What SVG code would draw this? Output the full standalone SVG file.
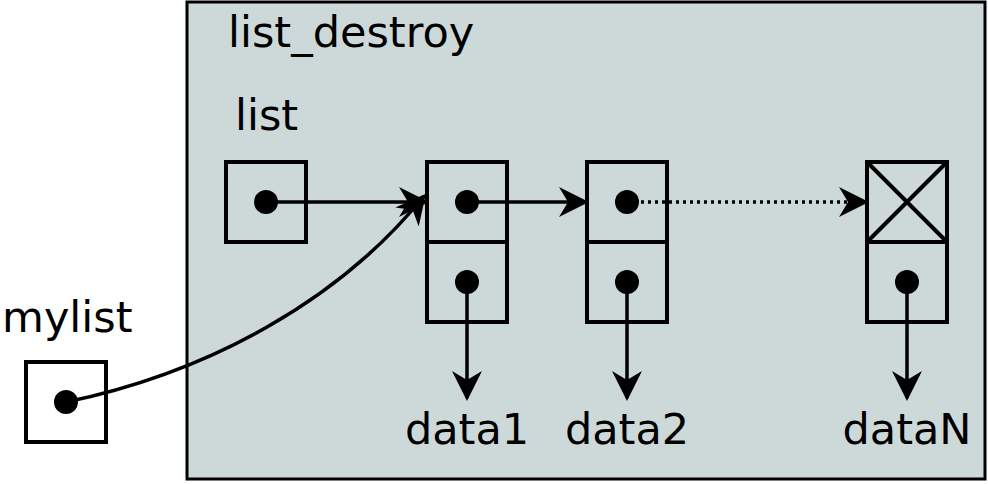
<svg xmlns="http://www.w3.org/2000/svg" width="988" height="484" viewBox="0 0 988 484">
<defs>
<style>
.b{fill:none;stroke:#000;stroke-width:4}
.t{font-family:"DejaVu Sans",sans-serif;font-size:43px;fill:#000}
.l{stroke:#000;stroke-width:3.5;fill:none}
</style>
<marker id="A" viewBox="0 0 10 10" refX="9" refY="5" markerWidth="30" markerHeight="30" markerUnits="userSpaceOnUse" orient="auto"><path d="M0,0 L10,5 L0,10 L3,5 Z" fill="#000"/></marker>
</defs>
<rect width="988" height="484" fill="#fff"/>
<g id="frame"><rect x="187" y="2" width="798" height="477" fill="#cdd9d9" stroke="#000" stroke-width="3"/>
<text class="t" x="228" y="47">list_destroy</text></g>
<g id="list"><text class="t" x="235" y="130">list</text><rect class="b" x="226" y="162" width="80" height="80"/><circle cx="266" cy="202" r="12"/></g>
<g id="node1"><rect class="b" x="427" y="162" width="80" height="80"/><rect class="b" x="427" y="242" width="80" height="80"/><circle cx="467" cy="202" r="12"/><circle cx="467" cy="282" r="12"/></g>
<g id="node2"><rect class="b" x="587" y="162" width="80" height="80"/><rect class="b" x="587" y="242" width="80" height="80"/><circle cx="627" cy="202" r="12"/><circle cx="627" cy="282" r="12"/></g>
<g id="nodeN"><rect class="b" x="867" y="162" width="80" height="80"/><path class="b" d="M867,162 L947,242 M947,162 L867,242"/><rect class="b" x="867" y="242" width="80" height="80"/><circle cx="907" cy="282" r="12"/></g>
<g id="mylist"><text class="t" x="2" y="332">mylist</text><rect class="b" x="26" y="362" width="80" height="80"/><circle cx="66" cy="402" r="12"/></g>
<g id="data"><text class="t" x="467" y="444" text-anchor="middle">data1</text><text class="t" x="627" y="444" text-anchor="middle">data2</text><text class="t" x="907" y="444" text-anchor="middle">dataN</text></g>
<g id="connectors">
<path class="l" d="M266,202 L426,202" marker-end="url(#A)"/>
<path class="l" d="M467,202 L586,202" marker-end="url(#A)"/>
<path class="l" d="M627,202 L866,202" stroke-dasharray="3,4" marker-end="url(#A)"/>
<path class="l" d="M467,282 L467,398" marker-end="url(#A)"/>
<path class="l" d="M627,282 L627,398" marker-end="url(#A)"/>
<path class="l" d="M907,282 L907,398" marker-end="url(#A)"/>
<path class="l" d="M66,402 C210,372 340,300 424,196" marker-end="url(#A)"/>
</g>
</svg>
